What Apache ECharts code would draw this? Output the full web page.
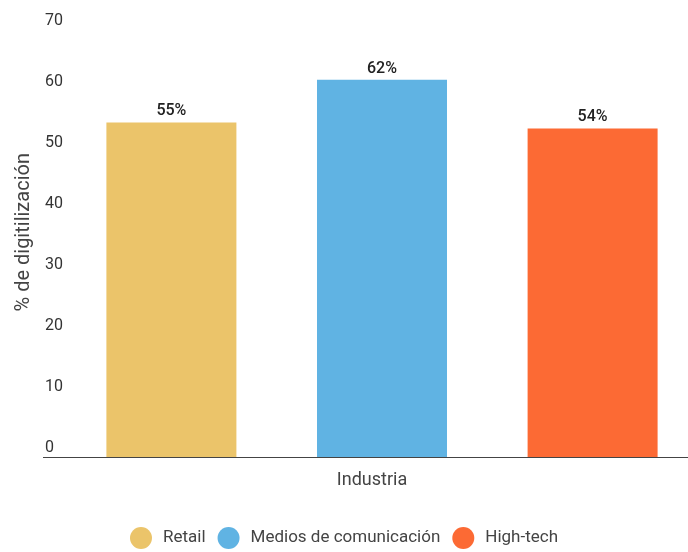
<!DOCTYPE html>
<html>
<head>
<meta charset="utf-8">
<script src="https://cdn.jsdelivr.net/npm/echarts@6/dist/echarts.min.js"></script>
<style>html,body{margin:0;padding:0;background:#fff;}#c{width:688px;height:552px;}</style>
</head>
<body>
<div id="c"></div>
<script>
const industries = ['Retail', 'Medios de comunicación', 'High-tech'];
const values = [55, 62, 54];
const colors = ['#EBC46A', '#60B3E3', '#FC6A34'];
const yTicks = [0, 10, 20, 30, 40, 50, 60, 70];
const category = ['Industria'];

const chart = echarts.init(document.getElementById('c'));
const font = 'Roboto, sans-serif';
const gridLeft = 76, gridTop = 31, gridBottom = 94.5;
chart.setOption({
  animation: false,
  textStyle: { fontFamily: font },
  grid: { left: gridLeft, right: 0, top: gridTop, bottom: gridBottom },
  legend: {
    bottom: -2, left: 'center',
    icon: 'circle', itemWidth: 22, itemHeight: 22, itemGap: 12,
    textStyle: { fontFamily: font, fontSize: 17, color: '#444', padding: [0, 0, 0, 6] },
    data: industries
  },
  xAxis: {
    type: 'category',
    data: category,
    name: 'Industria',
    nameLocation: 'middle',
    nameGap: 14,
    nameTextStyle: { fontFamily: font, fontSize: 18, color: '#444', padding: [0, 20, 0, 0] },
    axisLine: { show: false },
    axisTick: { show: false },
    axisLabel: { show: false }
  },
  yAxis: {
    type: 'value',
    min: yTicks[0], max: yTicks[yTicks.length - 1], interval: 10,
    name: '% de digitilización',
    nameLocation: 'middle',
    nameGap: 42,
    nameTextStyle: { fontFamily: font, fontSize: 20, color: '#444', padding: [0, 0, 0, 24] },
    axisLine: { show: false },
    axisTick: { show: false },
    splitLine: { show: false },
    axisLabel: {
      align: 'left', margin: 31, verticalAlign: 'bottom',
      padding: [0, 0, 2, 0],
      fontFamily: font, fontSize: 16, color: '#333'
    }
  },
  graphic: [{
    type: 'line', z: 10,
    shape: { x1: 43, y1: 552 - gridBottom, x2: 688, y2: 552 - gridBottom },
    style: { stroke: '#444', lineWidth: 1.2 }
  }],
  series: industries.map((name, i) => ({
    name: name,
    type: 'bar',
    data: [values[i]],
    barWidth: 130,
    barGap: '62%',
    itemStyle: { color: colors[i] },
    label: {
      show: true, position: 'top', distance: 3,
      formatter: '{c}%',
      fontFamily: font, fontSize: 16, fontWeight: 500, color: '#222'
    }
  }))
});
</script>
</body>
</html>
